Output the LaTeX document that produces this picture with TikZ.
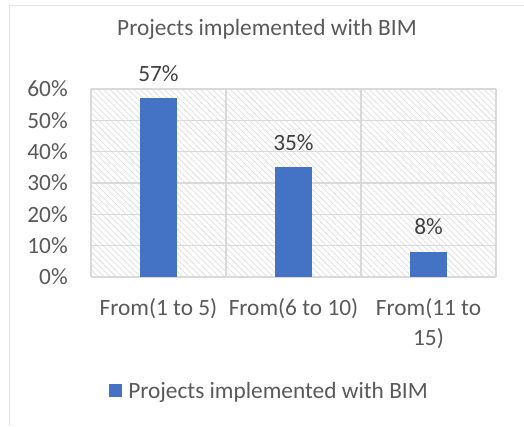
\documentclass[tikz,border=0pt]{standalone}
\usepackage{fontspec}
\setmainfont{Carlito}
\usetikzlibrary{patterns.meta}
\definecolor{barblue}{HTML}{4472C4}
\definecolor{gridgray}{HTML}{D9D9D9}
\definecolor{framegray}{HTML}{E3E3E3}
\definecolor{textgray}{HTML}{595959}
\definecolor{valuegray}{HTML}{404040}
\tikzset{
	every node/.style={font=\fontsize{17.5}{22}\selectfont, text=textgray, inner sep=0pt},
	bar/.style={fill=barblue},
	gridline/.style={draw=gridgray, line width=1.1pt},
	hatch/.style={pattern={Lines[angle=-45, distance=3.2pt, line width=0.55pt]}, pattern color=black!13},
	ticklabel/.style={anchor=east},
	valuelabel/.style={anchor=base, text=valuegray},
	catlabel/.style={anchor=base, align=center},
}
\begin{document}
\begin{tikzpicture}[x=0.75pt, y=-0.75pt]
      \useasboundingbox (0,0) rectangle (524,426);
      % chart frame (cut at right and bottom)
      \draw[draw=framegray, line width=1.3pt] (9.5,426) -- (9.5,5.5) -- (524,5.5);

      \node[anchor=base] (title) at (267,35.5) {Projects implemented with BIM};

      % plot area
      \fill[hatch] (91,89) rectangle (496,277);
      \foreach \i in {0,...,6}
        \draw[gridline] (91,277-31.33*\i) -- (496,277-31.33*\i);
      \foreach \x in {91,226,361,496}
        \draw[gridline] (\x,89) -- (\x,277);

      \foreach \i in {0,...,6}{
        \pgfmathtruncatemacro{\pct}{10*\i}
        \node[ticklabel] (tick\i) at (68,277-31.33*\i) {\pct\%};
      }

      % bars and values
      \foreach \c/\v in {158.5/57, 293.5/35, 428.5/8}{
        \fill[bar] (\c-18.5,277) rectangle (\c+18.5,277-3.133*\v);
        \node[valuelabel] (val\v) at (\c,277-3.133*\v-17) {\v\%};
      }

      % categories (base = last line)
      \node[catlabel] (cat1) at (158.5,315.5) {From(1 to 5)};
      \node[catlabel] (cat2) at (293.5,315.5) {From(6 to 10)};
      \node[catlabel] (cat3) at (428.5,345) {From(11 to\\15)};

      % legend
      \fill[bar] (109,384) rectangle (122,397);
      \node[anchor=base west] (legend) at (128,398) {Projects implemented with BIM};
\end{tikzpicture}
\end{document}
